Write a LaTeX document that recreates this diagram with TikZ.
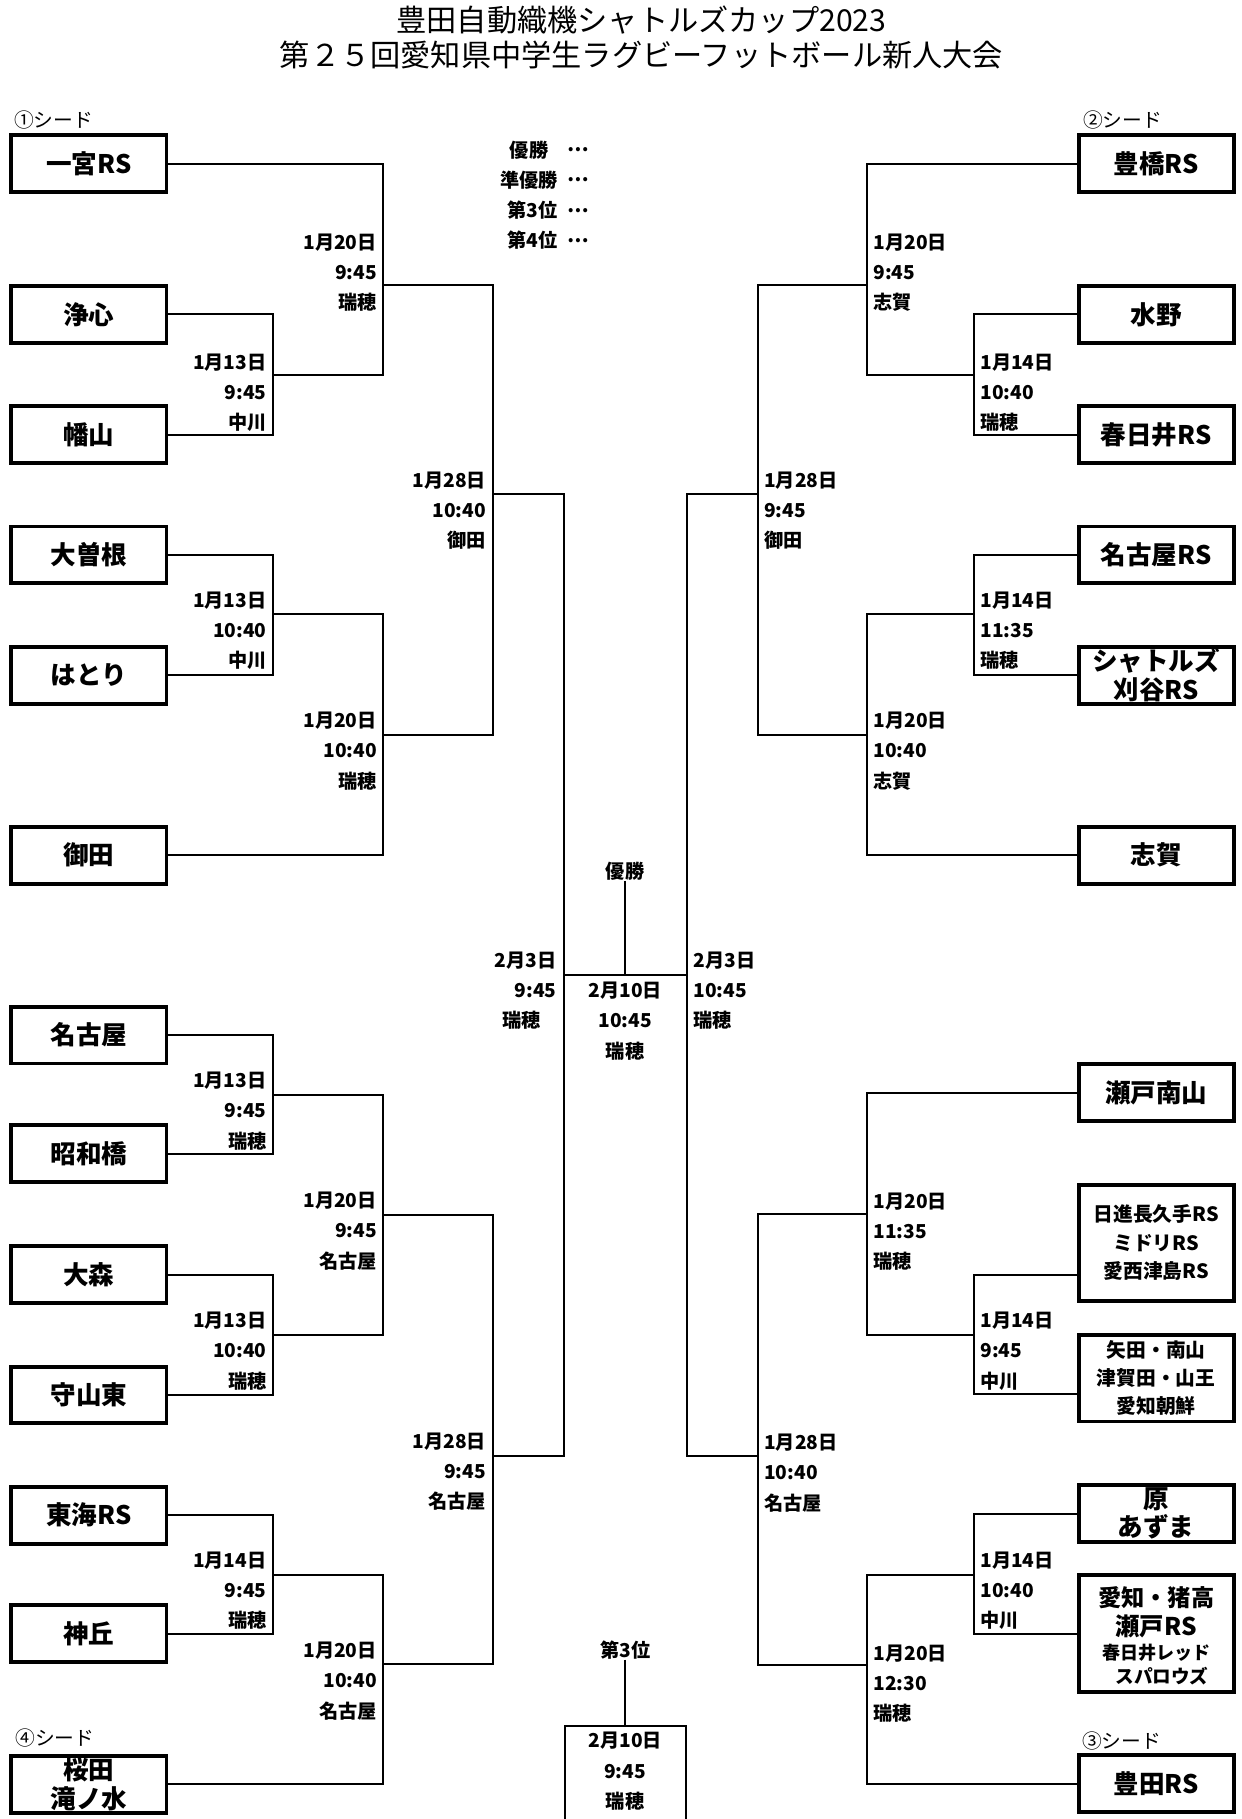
\documentclass[tikz,border=0pt]{standalone}
\usepackage{fontspec}
\setmainfont{Noto Sans CJK JP}[BoldFont={Noto Sans CJK JP Black}]
\usetikzlibrary{positioning}

\tikzset{
  team/.style={draw,line width=3.4pt,minimum width=133.6pt,minimum height=49pt,
    inner sep=0pt,align=center,font=\fontsize{22}{24.5}\selectfont\bfseries},
  link/.style={line width=1.7pt},
  lab/.style={inner sep=0pt,font=\fontsize{16.5}{26}\selectfont\bfseries},
  labl/.style={lab,align=right,anchor=north east},
  labr/.style={lab,align=left,anchor=north west},
  seed/.style={inner sep=0pt,anchor=west,font=\fontsize{17}{18}\selectfont},
}

\begin{document}
\begin{tikzpicture}[x=1pt,y=-1pt]
\useasboundingbox (0,0) rectangle (1068,1565.4);

% title
\node[align=center,font=\fontsize{26}{30}\selectfont] (title) at (552,32)
  {豊田自動織機シャトルズカップ2023\\第２５回愛知県中学生ラグビーフットボール新人大会};

% legend
\foreach \i/\y/\txt/\r in {1/129/優勝/472,2/155/準優勝/480,3/181/第3位/480,4/207/第4位/480}{
  \node[lab,anchor=east] (lg\i) at (\r,\y) {\txt};
  \node[lab] (dots\i) at (498,\y) {…};
}

% seeds
\node[seed] (s1) at (12,103) {①シード};
\node[seed] (s2) at (932,103) {②シード};
\node[seed] (s3) at (931,1498) {③シード};
\node[seed] (s4) at (13,1496) {④シード};

% left teams
\foreach \n/\y/\txt in {l1/141/一宮RS,l2/270.6/浄心,l3/374/幡山,l4/477.6/大曽根,
    l5/581/はとり,l6/736/御田,l7/890.7/名古屋,l8/993/昭和橋,l9/1097/大森,
    l10/1200.5/守山東,l11/1304/東海RS,l12/1406/神丘}
  \node[team] (\n) at (76.5,\y) {\txt};
\node[team] (l13) at (76.5,1535.5) {桜田\\滝ノ水};

% right teams
\foreach \n/\y/\txt in {r1/141/豊橋RS,r2/270.6/水野,r3/374/春日井RS,r4/477.6/名古屋RS,
    r6/736/志賀,r7/940.5/瀬戸南山,r12/1535/豊田RS}
  \node[team] (\n) at (995,\y) {\txt};
\node[team] (r5) at (995,581) {シャトルズ\\刈谷RS};
\node[team,minimum height=99.6pt,font=\fontsize{17}{24.5}\selectfont\bfseries] (r8)
  at (995,1069.5) {日進長久手RS\\ミドリRS\\愛西津島RS};
\node[team,minimum height=74.6pt,font=\fontsize{17}{24}\selectfont\bfseries] (r9)
  at (995,1186) {矢田・南山\\津賀田・山王\\愛知朝鮮};
\node[team] (r10) at (995,1302.5) {原\\あずま};
\node[team,minimum height=100.6pt] (r11) at (995,1406) {};
\node[lab,font=\fontsize{20}{24}\selectfont\bfseries] (r11a) at ([yshift=31pt]r11.center) {愛知・猪高};
\node[lab,font=\fontsize{21}{24}\selectfont\bfseries] (r11b) at ([yshift=6pt]r11.center) {瀬戸RS};
\node[lab,font=\fontsize{15.5}{18}\selectfont\bfseries] (r11c) at ([yshift=-16pt]r11.center) {春日井レッド};
\node[lab,font=\fontsize{16}{18}\selectfont\bfseries] (r11d) at ([xshift=5pt,yshift=-36pt]r11.center) {スパロウズ};
\coordinate (r8in) at ([yshift=-27.5pt]r8.west);
\coordinate (r9in) at ([yshift=-14pt]r9.west);

% matches, left
\foreach \n/\x/\y/\ly/\txt in {mL1/235/322.7/311/{1月13日\\9:45\\中川},
    mL2/330/245/208/{1月20日\\9:45\\瑞穂},
    mL3/235/528.7/516/{1月13日\\10:40\\中川},
    mL4/330/632.5/619.6/{1月20日\\10:40\\瑞穂},
    mL5/424/425/413/{1月28日\\10:40\\御田},
    mL6/235/942.5/929.4/{1月13日\\9:45\\瑞穂},
    mL7/235/1149/1136/{1月13日\\10:40\\瑞穂},
    mL8/330/1046/1032.7/{1月20日\\9:45\\名古屋},
    mL9/235/1355/1342/{1月14日\\9:45\\瑞穂},
    mL10/330/1432/1420/{1月20日\\10:40\\名古屋},
    mL11/424/1253/1240/{1月28日\\9:45\\名古屋}}{
  \coordinate (\n) at (\x,\y);
  \node[labl] (\n-lab) at (\x-5.5,\ly-7) {\txt};
}
% matches, right
\foreach \n/\x/\y/\ly/\txt in {mR1/838/322.7/311/{1月14日\\10:40\\瑞穂},
    mR2/746/245/208/{1月20日\\9:45\\志賀},
    mR3/838/528.7/516/{1月14日\\11:35\\瑞穂},
    mR4/746/632.5/619.6/{1月20日\\10:40\\志賀},
    mR5/652/425/413/{1月28日\\9:45\\御田},
    mR6/838/1149/1136/{1月14日\\9:45\\中川},
    mR7/746/1045/1033/{1月20日\\11:35\\瑞穂},
    mR8/838/1355/1342/{1月14日\\10:40\\中川},
    mR9/746/1433/1422/{1月20日\\12:30\\瑞穂},
    mR10/652/1253/1241/{1月28日\\10:40\\名古屋}}{
  \coordinate (\n) at (\x,\y);
  \node[labr] (\n-lab) at (\x+5.5,\ly-7) {\txt};
}
\coordinate (mL12) at (485,839);
\coordinate (mR11) at (591,839);
\coordinate (fin) at (538,839);
\node[labl] (mL12-lab) at (479,819) {2月3日\\9:45\\瑞穂\hspace*{13.4pt}};
\node[labr] (mR11-lab) at (596.6,819) {2月3日\\10:45\\瑞穂};
\node[lab,align=center,anchor=north] (fin-lab) at (538,845) {2月10日\\10:45\\瑞穂};

% brackets
\draw[link] (l2.east) -| (mL1) |- (l3.east)
  (l1.east) -| (mL2) |- (mL1)
  (l4.east) -| (mL3) |- (l5.east)
  (mL3) -| (mL4) |- (l6.east)
  (mL2) -| (mL5) |- (mL4)
  (l7.east) -| (mL6) |- (l8.east)
  (l9.east) -| (mL7) |- (l10.east)
  (mL6) -| (mL8) |- (mL7)
  (l11.east) -| (mL9) |- (l12.east)
  (mL9) -| (mL10) |- (l13.east)
  (mL8) -| (mL11) |- (mL10)
  (mL5) -| (mL12) |- (mL11);
\draw[link] (r2.west) -| (mR1) |- (r3.west)
  (r1.west) -| (mR2) |- (mR1)
  (r4.west) -| (mR3) |- (r5.west)
  (mR3) -| (mR4) |- (r6.west)
  (mR2) -| (mR5) |- (mR4)
  (r8in) -| (mR6) |- (r9in)
  (r7.west) -| (mR7) |- (mR6)
  (r10.west) -| (mR8) |- (r11.west)
  (mR8) -| (mR9) |- (r12.west)
  (mR7) -| (mR10) |- (mR9)
  (mR5) -| (mR11) |- (mR10);

% final and 3rd place
\draw[link] (mL12) -- (mR11);
\node[lab] (champ) at (538,750) {優勝};
\draw[link] (champ.south) -- (fin);
\node[lab] (third) at (538,1420) {第3位};
\node[draw,line width=1.7pt,minimum width=104.3pt,minimum height=120pt,
  inner sep=0pt,anchor=north] (tbox) at (538,1484.8) {};
\draw[link] (third.south) -- (tbox.north);
\node[lab,align=center,anchor=north] (tbox-lab) at (538,1490.6) {2月10日\\9:45\\瑞穂};
\end{tikzpicture}
\end{document}
